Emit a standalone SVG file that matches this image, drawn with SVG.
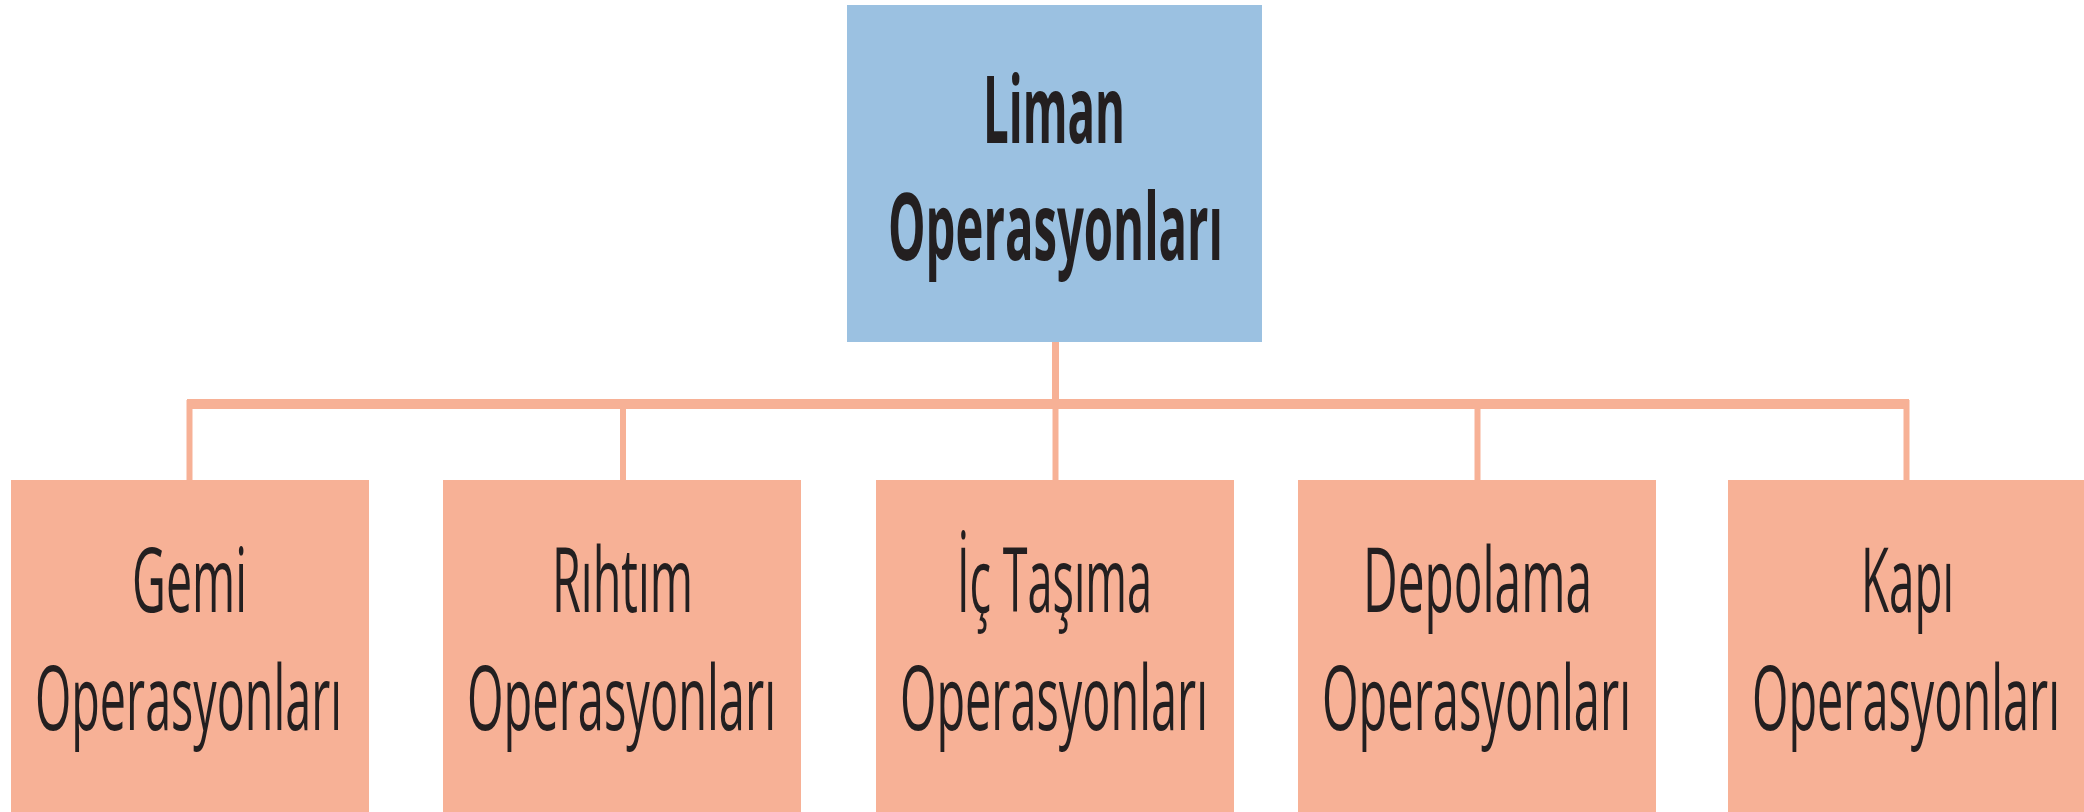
<svg xmlns="http://www.w3.org/2000/svg" width="2084" height="812" viewBox="0 0 2084 812">
  <style>
    .root { fill: #9BC1E1; }
    .unit { fill: #F7B196; }
    .link { stroke: #F7B196; fill: none; }
    text { font-family: "Open Sans", "Liberation Sans", sans-serif; fill: #231F20; text-anchor: middle; }
    .t-root { font-size: 94px; font-weight: 700; }
    .t-unit { font-size: 90px; font-weight: 400; }
  </style>
  <rect width="2084" height="812" fill="#FFFFFF"/>

  <!-- connectors: trunk, bus bar and drops -->
  <g id="connectors">
    <line class="link" x1="1055.5" y1="342" x2="1055.5" y2="404" stroke-width="7"/>
    <line class="link" x1="187" y1="404" x2="1909" y2="404" stroke-width="10"/>
    <line class="link" x1="189.5" y1="400" x2="189.5" y2="481" stroke-width="6"/>
    <line class="link" x1="623" y1="400" x2="623" y2="481" stroke-width="6"/>
    <line class="link" x1="1055.5" y1="400" x2="1055.5" y2="481" stroke-width="6"/>
    <line class="link" x1="1477.5" y1="400" x2="1477.5" y2="481" stroke-width="6"/>
    <line class="link" x1="1906.5" y1="400" x2="1906.5" y2="481" stroke-width="6"/>
  </g>

  <g id="liman">
    <rect class="root" x="847" y="5" width="415" height="337"/>
    <text class="t-root" x="1054" y="143" textLength="142" lengthAdjust="spacingAndGlyphs">Liman</text>
    <text class="t-root" x="1055.5" y="260" textLength="335" lengthAdjust="spacingAndGlyphs">Operasyonları</text>
  </g>

  <g id="gemi">
    <rect class="unit" x="11" y="480" width="358" height="332"/>
    <text class="t-unit" x="189.5" y="612" textLength="115" lengthAdjust="spacingAndGlyphs">Gemi</text>
    <text class="t-unit" x="188.5" y="730" textLength="307" lengthAdjust="spacingAndGlyphs">Operasyonları</text>
  </g>

  <g id="rihtim">
    <rect class="unit" x="443" y="480" width="358" height="332"/>
    <text class="t-unit" x="622.5" y="612" textLength="141" lengthAdjust="spacingAndGlyphs">Rıhtım</text>
    <text class="t-unit" x="621.5" y="730" textLength="309" lengthAdjust="spacingAndGlyphs">Operasyonları</text>
  </g>

  <g id="ic-tasima">
    <rect class="unit" x="876" y="480" width="358" height="332"/>
    <text class="t-unit" x="1054.5" y="612" textLength="195" lengthAdjust="spacingAndGlyphs">İç Taşıma</text>
    <text class="t-unit" x="1054" y="730" textLength="308" lengthAdjust="spacingAndGlyphs">Operasyonları</text>
  </g>

  <g id="depolama">
    <rect class="unit" x="1298" y="480" width="358" height="332"/>
    <text class="t-unit" x="1477.5" y="612" textLength="229" lengthAdjust="spacingAndGlyphs">Depolama</text>
    <text class="t-unit" x="1476.5" y="730" textLength="309" lengthAdjust="spacingAndGlyphs">Operasyonları</text>
  </g>

  <g id="kapi">
    <rect class="unit" x="1728" y="480" width="356" height="332"/>
    <text class="t-unit" x="1907.5" y="612" textLength="93" lengthAdjust="spacingAndGlyphs">Kapı</text>
    <text class="t-unit" x="1906" y="730" textLength="308" lengthAdjust="spacingAndGlyphs">Operasyonları</text>
  </g>
</svg>
